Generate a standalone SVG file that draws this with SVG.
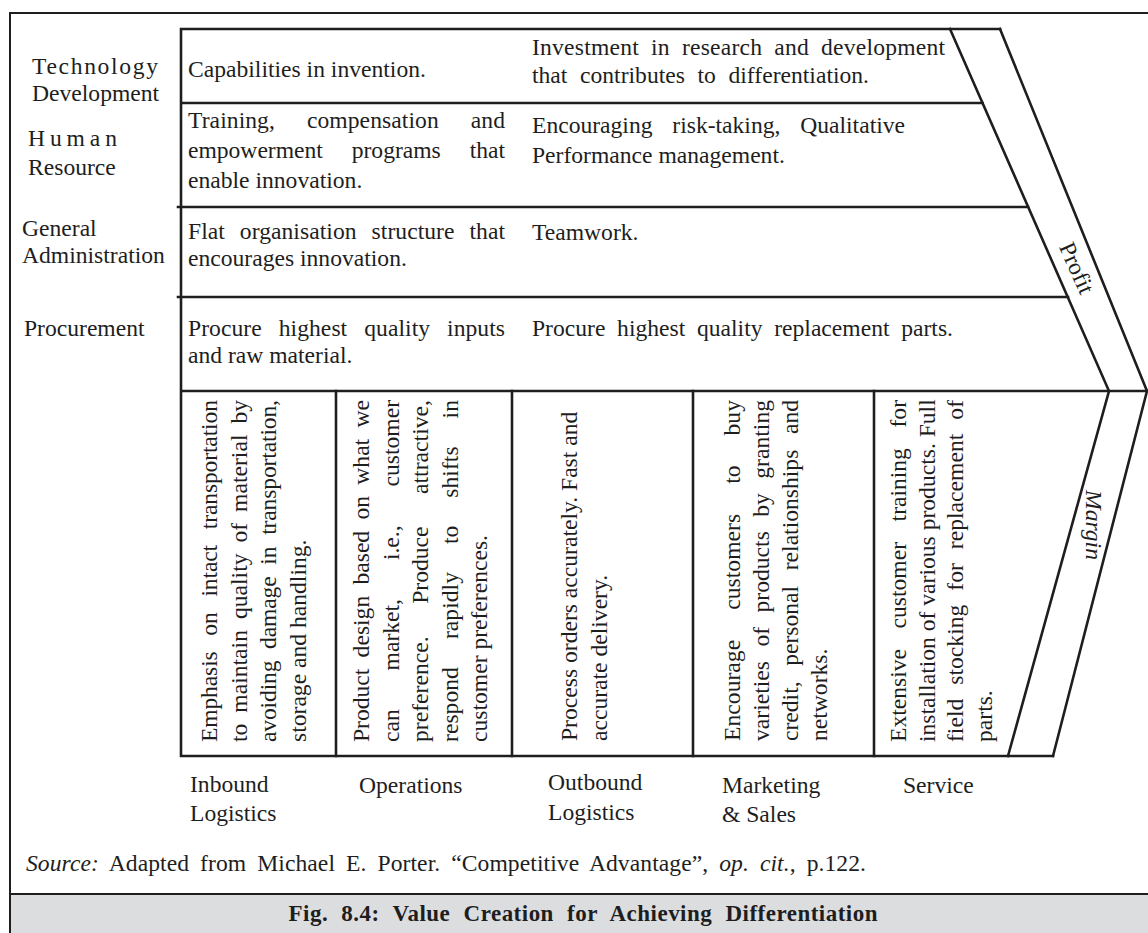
<svg xmlns="http://www.w3.org/2000/svg" width="1148" height="933" viewBox="0 0 1148 933">
<style>
text{font-family:"Liberation Serif","Times New Roman",serif;font-size:23.6px;fill:#1e1e1e}
.ln{stroke:#1e1e1e;stroke-width:2.6;fill:none;stroke-linecap:square}
.fr{stroke:#1e1e1e;stroke-width:2;fill:none}
.it{font-style:italic}
.cap{font-weight:bold;font-size:23px}
</style>
<rect x="0" y="0" width="1148" height="933" fill="#ffffff"/>
<g id="frame">
<rect x="10" y="894" width="1140" height="45" fill="#dcdddf"/>
<path class="fr" d="M1150,13 H10 V933"/>
<path class="fr" d="M10,894 H1150"/>
</g>
<g id="connectors">
<path class="ln" d="M181,29 H1000 M181,29 V756 M181,103 H982.5 M178,207 H1028 M178,297 H1068 M181,391 H1147 M181,756 H1053"/>
<path class="ln" d="M336,391 V756 M512,391 V756 M693,391 V756 M874,391 V756"/>
<path class="ln" d="M950,29 L1109,391 L1008,756 M1000,29 L1147,391 L1053,756"/>
</g>
<g id="technology-development">
<text x="32" y="74" textLength="126" lengthAdjust="spacing">Technology</text>
<text x="32" y="101">Development</text>
<text x="188" y="77">Capabilities in invention.</text>
<text x="532" y="55" word-spacing="6" textLength="413" lengthAdjust="spacing">Investment in research and development</text>
<text x="532" y="83" word-spacing="6.7" textLength="337" lengthAdjust="spacing">that contributes to differentiation.</text>
</g>
<g id="human-resource">
<text x="28" y="146" textLength="89" lengthAdjust="spacing">H u m a n</text>
<text x="28" y="175">Resource</text>
<text x="188" y="128" word-spacing="26" textLength="317" lengthAdjust="spacing">Training, compensation and</text>
<text x="188" y="158" word-spacing="23" textLength="317" lengthAdjust="spacing">empowerment programs that</text>
<text x="188" y="188">enable innovation.</text>
<text x="532" y="133" word-spacing="14" textLength="373" lengthAdjust="spacing">Encouraging risk-taking, Qualitative</text>
<text x="532" y="163">Performance management.</text>
</g>
<g id="general-administration">
<text x="22" y="236">General</text>
<text x="22" y="263">Administration</text>
<text x="188" y="239" word-spacing="9" textLength="317" lengthAdjust="spacing">Flat organisation structure that</text>
<text x="188" y="266">encourages innovation.</text>
<text x="532" y="240">Teamwork.</text>
</g>
<g id="procurement">
<text x="24" y="336">Procurement</text>
<text x="188" y="336" word-spacing="11" textLength="317" lengthAdjust="spacing">Procure highest quality inputs</text>
<text x="188" y="363">and raw material.</text>
<text x="532" y="336" word-spacing="5.8" textLength="421" lengthAdjust="spacing">Procure highest quality replacement parts.</text>
</g>
<g id="inbound-logistics">
<text transform="translate(217,742) rotate(-90)" word-spacing="10" textLength="342" lengthAdjust="spacing">Emphasis on intact transportation</text>
<text transform="translate(246.5,742) rotate(-90)" word-spacing="5" textLength="342" lengthAdjust="spacing">to maintain quality of material by</text>
<text transform="translate(276,742) rotate(-90)" word-spacing="6" textLength="342" lengthAdjust="spacing">avoiding damage in transportation,</text>
<text transform="translate(305.5,742) rotate(-90)">storage and handling.</text>
<text x="190" y="792">Inbound</text>
<text x="190" y="821">Logistics</text>
</g>
<g id="operations">
<text transform="translate(369,742) rotate(-90)" word-spacing="5.4" textLength="342" lengthAdjust="spacing">Product design based on what we</text>
<text transform="translate(398.5,742) rotate(-90)" word-spacing="33" textLength="342" lengthAdjust="spacing">can market, i.e., customer</text>
<text transform="translate(428,742) rotate(-90)" word-spacing="26.5" textLength="342" lengthAdjust="spacing">preference. Produce attractive,</text>
<text transform="translate(457.5,742) rotate(-90)" word-spacing="22" textLength="342" lengthAdjust="spacing">respond rapidly to shifts in</text>
<text transform="translate(487,742) rotate(-90)">customer preferences.</text>
<text x="359" y="793">Operations</text>
</g>
<g id="outbound-logistics">
<text transform="translate(577,741) rotate(-90)">Process orders accurately. Fast and</text>
<text transform="translate(607,741) rotate(-90)">accurate delivery.</text>
<text x="548" y="790">Outbound</text>
<text x="548" y="820">Logistics</text>
</g>
<g id="marketing-sales">
<text transform="translate(740,741) rotate(-90)" word-spacing="24" textLength="341" lengthAdjust="spacing">Encourage customers to buy</text>
<text transform="translate(769,741) rotate(-90)" word-spacing="8.5" textLength="341" lengthAdjust="spacing">varieties of products by granting</text>
<text transform="translate(798,741) rotate(-90)" word-spacing="9.7" textLength="341" lengthAdjust="spacing">credit, personal relationships and</text>
<text transform="translate(827,741) rotate(-90)">networks.</text>
<text x="722" y="793">Marketing</text>
<text x="722" y="822">&amp; Sales</text>
</g>
<g id="service">
<text transform="translate(906,742) rotate(-90)" word-spacing="14.7" textLength="342" lengthAdjust="spacing">Extensive customer training for</text>
<text transform="translate(934.5,742) rotate(-90)">installation of various products. Full</text>
<text transform="translate(963,742) rotate(-90)" word-spacing="8" textLength="342" lengthAdjust="spacing">field stocking for replacement of</text>
<text transform="translate(991.5,742) rotate(-90)">parts.</text>
<text x="903" y="793">Service</text>
</g>
<g id="profit">
<text transform="translate(1077,268) rotate(66)" x="0" y="8" text-anchor="middle">Profit</text>
</g>
<g id="margin">
<text class="it" transform="translate(1094,525) rotate(90)" x="0" y="8" text-anchor="middle">Margin</text>
</g>
<g id="source">
<text x="26" y="871" word-spacing="5" textLength="840" lengthAdjust="spacing"><tspan class="it">Source:</tspan> Adapted from Michael E. Porter. “Competitive Advantage”, <tspan class="it">op. cit.</tspan>, p.122.</text>
</g>
<g id="caption">
<text class="cap" x="583" y="921" text-anchor="middle" word-spacing="7" textLength="589" lengthAdjust="spacing">Fig. 8.4:  Value Creation for Achieving Differentiation</text>
</g>
</svg>
